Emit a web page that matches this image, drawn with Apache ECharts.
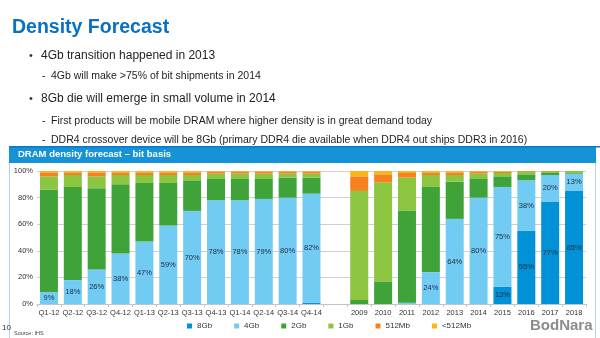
<!DOCTYPE html>
<html>
<head>
<meta charset="utf-8">
<script src="https://cdn.jsdelivr.net/npm/echarts@6/dist/echarts.min.js"></script>
<style>
  html, body { margin: 0; padding: 0; background: #ffffff; }
  #chart { width: 600px; height: 338px; }
</style>
</head>
<body>
<div id="chart"></div>
<script>
// Periods: quarterly 2012-2014, a spacer, then yearly 2009-2018
const categories = ['Q1-12','Q2-12','Q3-12','Q4-12','Q1-13','Q2-13','Q3-13','Q4-13','Q1-14','Q2-14','Q3-14','Q4-14',
  '', '2009','2010','2011','2012','2013','2014','2015','2016','2017','2018'];

// Share of bit shipments by die density (%)
const d8Gb   = [0,0,0,0,0,0,0,0,0,0,0,1,            null, 0,0,0,0,0,0,13,55,77,85];
const d4Gb   = [9,18,26,38,47,59,70,78,78,79,80,82, null, 0,0,1,24,64,80,75,38,20,13];
const d2Gb   = [77,70,61,52,44,32,23,16,16,15,15,12, null, 3,17,69,64,28,14.5,8,4.5,1.5,0.5];
const d1Gb   = [10,9,9,7,6,6,4,4,4,4,3,3,           null, 82,74.5,25,9,5,3.5,2.5,2,1,1.5];
const d512Mb = [3,2,3,2,2,2,2,1.5,1.5,1.5,1.5,1.5,  null, 11,6,3.5,2,2,1.5,1,0.5,0.5,0];
const dLt512 = [1,1,1,1,1,1,1,0.5,0.5,0.5,0.5,0.5,  null, 4,2.5,1.5,1,1,0.5,0.5,0,0,0];

const yTicks = [0, 20, 40, 60, 80, 100];

const seriesNames = ['8Gb','4Gb','2Gb','1Gb','512Mb','<512Mb'];
const seriesData  = [d8Gb, d4Gb, d2Gb, d1Gb, d512Mb, dLt512];
const seriesColors = ['#0091d6', '#72cbf3', '#3fa33a', '#8cc540', '#f5821f', '#fbb516'];
const labelled = { '8Gb': true, '4Gb': true };

const chart = echarts.init(document.getElementById('chart'), null, { renderer: 'canvas' });

const series = seriesNames.map((name, i) => ({
  name: name,
  type: 'bar',
  stack: 'share',
  barWidth: 18,
  data: seriesData[i],
  itemStyle: { color: seriesColors[i] },
  label: {
    show: !!labelled[name],
    position: 'inside',
    fontSize: 7.5,
    fontFamily: 'Liberation Sans',
    color: '#1c2c3c',
    formatter: p => (p.value != null && p.value >= 5) ? Math.round(p.value) + '%' : ''
  },
  emphasis: { disabled: true }
}));

const bulletFont = 'Liberation Sans';
function line(x, y, text, size) {
  return { type: 'text', left: x, top: y - size * 0.6, style: { text: text, font: size + 'px "' + bulletFont + '"', fill: '#1e1e1e' } };
}

chart.setOption({
  animation: false,
  backgroundColor: '#ffffff',
  grid: { left: 37, right: 14, top: 171, bottom: 34, containLabel: false },
  legend: {
    data: seriesNames,
    left: 182,
    top: 317,
    icon: 'rect',
    itemWidth: 5,
    itemHeight: 5,
    itemGap: 22,
    textStyle: { fontSize: 8, color: '#333', fontFamily: 'Liberation Sans' }
  },
  xAxis: {
    type: 'category',
    data: categories,
    axisLine: { show: true, lineStyle: { color: '#c4c4c4' } },
    axisTick: { show: true, length: 3, lineStyle: { color: '#c4c4c4' } },
    axisLabel: { fontSize: 7.5, color: '#333', margin: 5, interval: 0, fontFamily: 'Liberation Sans' }
  },
  yAxis: {
    type: 'value',
    min: 0,
    max: 100,
    interval: 20,
    axisLine: { show: false },
    axisTick: { show: false },
    splitLine: { lineStyle: { color: '#cfcfcf' } },
    axisLabel: {
      fontSize: 7.5, color: '#333', margin: 4, fontFamily: 'Liberation Sans',
      formatter: v => yTicks.indexOf(v) >= 0 ? v + '%' : ''
    }
  },
  series: series,
  graphic: [
    // slide title
    { type: 'text', left: 12, top: 18, style: { text: 'Density Forecast', font: 'bold 19.5px "Liberation Sans"', fill: '#0a70c4' } },
    // bullets
    { type: 'text', left: 29, top: 50, style: { text: '•', font: '11px "Liberation Sans"', fill: '#333' } },
    line(41, 57, '4Gb transition happened in 2013', 12),
    line(42, 77, '-', 10.5),
    line(51, 77, '4Gb will make >75% of bit shipments in 2014', 10.5),
    { type: 'text', left: 29, top: 93, style: { text: '•', font: '11px "Liberation Sans"', fill: '#333' } },
    line(41, 100, '8Gb die will emerge in small volume in 2014', 12),
    line(42, 122, '-', 10.5),
    line(51, 122, 'First products will be mobile DRAM where higher density is in great demand today', 10.5),
    line(42, 141, '-', 10.5),
    line(51, 141, 'DDR4 crossover device will be 8Gb (primary DDR4 die available when DDR4 out ships DDR3 in 2016)', 10.5),
    // chart panel
    { type: 'rect', shape: { x: 9.5, y: 147.5, width: 586, height: 195 }, style: { fill: 'none', stroke: '#a9d8f2', lineWidth: 1 }, z: -1 },
    { type: 'rect', shape: { x: 9, y: 147, width: 587, height: 16 }, style: { fill: '#1593d6' } },
    { type: 'rect', shape: { x: 9, y: 146, width: 591, height: 1.5 }, style: { fill: '#0b78c8' } },
    { type: 'text', left: 18, top: 149.5, style: { text: 'DRAM density forecast – bit basis', font: 'bold 9.5px "Liberation Sans"', fill: '#ffffff' } },
    // footer
    { type: 'text', left: 2, top: 324, style: { text: '10', font: '8px "Liberation Sans"', fill: '#333' } },
    { type: 'text', left: 14, top: 330, style: { text: 'Source: IHS', font: '5.5px "Liberation Sans"', fill: '#444' } },
    { type: 'text', left: 530, top: 318, style: { text: 'BodNara', font: 'bold 15px "Liberation Sans"', fill: '#8c8c8c' } }
  ]
});
</script>
</body>
</html>
